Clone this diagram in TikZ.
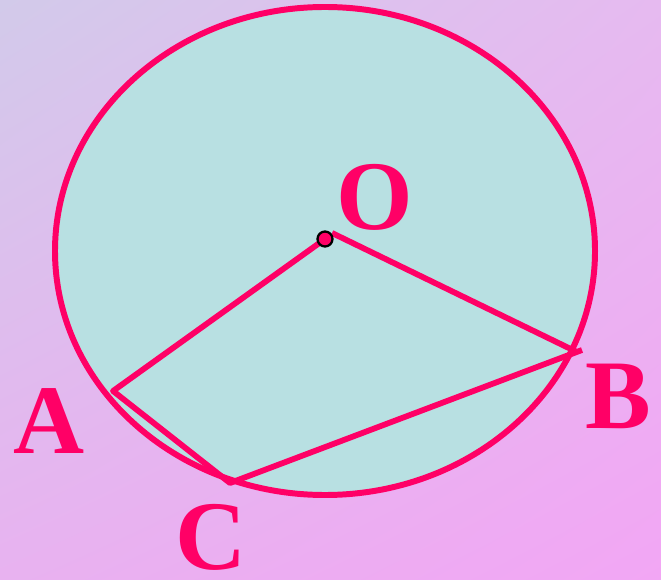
\documentclass[tikz,border=0pt]{standalone}
\usepackage{fontspec}
\setmainfont{Liberation Serif}
\usepackage{xcolor}
\usetikzlibrary{shadings}
\definecolor{chordred}{HTML}{FF0066}
\definecolor{discfill}{HTML}{B8E0E2}
\definecolor{bgtl}{RGB}{210,202,234}
\definecolor{bgtr}{RGB}{230,186,240}
\definecolor{bgbl}{RGB}{232,178,240}
\definecolor{bgbr}{RGB}{242,166,244}
\begin{document}
\begin{tikzpicture}[x=0.02cm,y=-0.02cm,line cap=round,line join=round,
  lbl/.style={text=chordred,font=\bfseries\fontsize{56}{60}\selectfont,inner sep=0pt},
  chord/.style={chordred,line width=3.3pt,line cap=butt}]
\shade[upper left=bgtl,upper right=bgtr,lower left=bgbl,lower right=bgbr] (0,0) rectangle (661,580);
\useasboundingbox (0,0) rectangle (661,580);
\filldraw[fill=discfill,draw=chordred,line width=3.4pt] (325,251) ellipse [x radius=270,y radius=244];
% vertices
\coordinate (O) at (332,233);
\coordinate (A) at (113,391);
\coordinate (C) at (230,483);
\coordinate (B) at (577,352);
\coordinate (Bt) at (582,350);
\draw[chord] (325,239) -- (A) -- (C) -- (Bt);
\draw[chord] (O) -- (B);
\node[circle,fill=chordred,draw=black,line width=1.3pt,minimum size=0.3cm,inner sep=0pt] (Odot) at (325,239) {};
% labels
\node[lbl] (labO) at (375,197) {O};
\node[lbl] (labA) at (49,421) {A};
\node[lbl] (labC) at (211,537) {C};
\node[lbl] (labB) at (618,396) {B};
\end{tikzpicture}
\end{document}
